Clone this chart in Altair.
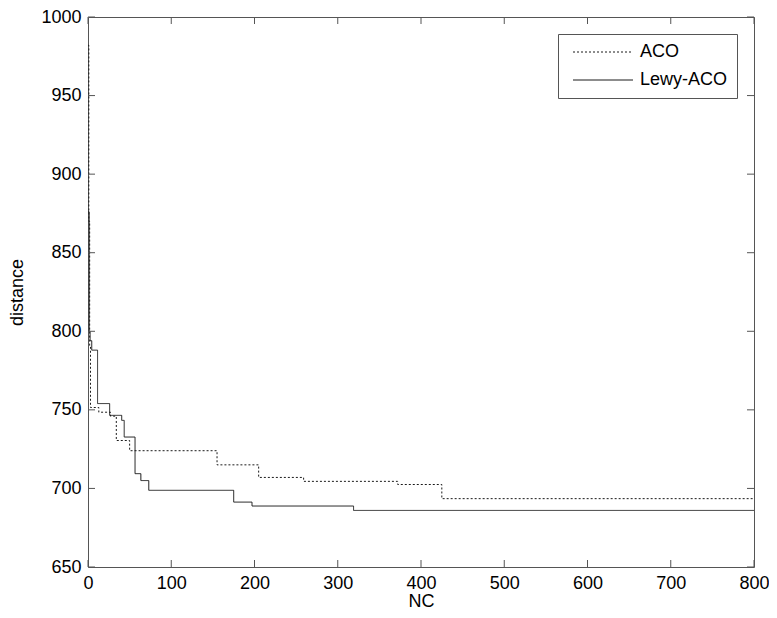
import altair as alt
import pandas as pd

# ---- data ----
aco_x = [0, 1, 2, 3, 13, 27, 34, 50, 155, 205, 259, 372, 425, 800]
aco_y = [982, 870, 790, 751.5, 748.5, 746, 730.5, 724, 715, 707, 704.5, 702.5, 693.5, 693.5]

lewy_x = [0, 1.5, 2.5, 4.5, 11.5, 26, 40.5, 43.5, 56.5, 63.5, 73, 175, 197, 319, 800]
lewy_y = [876, 800, 794, 788, 754, 746.5, 743.3, 732.7, 709.4, 705, 698.8, 691.3, 688.8, 686, 686]

x_ticks = [0, 100, 200, 300, 400, 500, 600, 700, 800]
y_ticks = [650, 700, 750, 800, 850, 900, 950, 1000]

series_names = ["ACO", "Lewy-ACO"]

W, H = 666, 550
TICK = 7
FONT = "Liberation Sans"
BOX = "#555555"

df = pd.concat([
    pd.DataFrame({"NC": aco_x, "distance": aco_y, "series": "ACO", "order": range(len(aco_x))}),
    pd.DataFrame({"NC": lewy_x, "distance": lewy_y, "series": "Lewy-ACO", "order": range(len(lewy_x))}),
])

xs = alt.Scale(domain=[0, 800], nice=False, zero=False)
ys = alt.Scale(domain=[650, 1000], nice=False, zero=False)
x_axis = alt.Axis(values=x_ticks, title="NC", ticks=False, domain=False, format="d",
                  labelFlush=False, labelOverlap=False,
                  labelPadding=7, titlePadding=0, grid=False)
y_axis = alt.Axis(values=y_ticks, title="distance", ticks=False, domain=False, format="d",
                  labelFlush=False, labelOverlap=False,
                  labelPadding=7, titlePadding=14, grid=False)

lines = alt.Chart(df).mark_line(interpolate="step-after", strokeWidth=1, color="#1a1a1a", clip=True).encode(
    x=alt.X("NC:Q", scale=xs, axis=x_axis),
    y=alt.Y("distance:Q", scale=ys, axis=y_axis),
    strokeDash=alt.StrokeDash("series:N",
                              scale=alt.Scale(domain=series_names, range=[[2, 2], [1, 0]]),
                              legend=alt.Legend(title=None, orient="none", legendX=470, legendY=17,
                                                symbolType="M-5,0H5", symbolSize=144,
                                                symbolOffset=27,
                                                symbolStrokeColor="#1a1a1a", symbolStrokeWidth=1,
                                                labelFont=FONT, labelFontSize=18, labelColor="black",
                                                labelOffset=28, rowPadding=10, padding=9,
                                                strokeColor=BOX, fillColor="white", cornerRadius=0)),
    order="order:Q",
)

xt = pd.DataFrame({"NC": x_ticks})
yt = pd.DataFrame({"distance": y_ticks})

bottom_ticks = alt.Chart(xt).mark_rule(color=BOX, strokeWidth=1).encode(
    x=alt.X("NC:Q", scale=xs, axis=x_axis), y=alt.value(H), y2=alt.value(H - TICK))
top_ticks = alt.Chart(xt).mark_rule(color=BOX, strokeWidth=1).encode(
    x=alt.X("NC:Q", scale=xs, axis=x_axis), y=alt.value(0), y2=alt.value(TICK))
left_ticks = alt.Chart(yt).mark_rule(color=BOX, strokeWidth=1).encode(
    y=alt.Y("distance:Q", scale=ys, axis=y_axis), x=alt.value(0), x2=alt.value(TICK))
right_ticks = alt.Chart(yt).mark_rule(color=BOX, strokeWidth=1).encode(
    y=alt.Y("distance:Q", scale=ys, axis=y_axis), x=alt.value(W), x2=alt.value(W - TICK))

chart = alt.layer(lines, bottom_ticks, top_ticks, left_ticks, right_ticks).properties(
    width=W, height=H,
    autosize=alt.AutoSizeParams(type="none"),
    padding={"left": 80, "top": 9, "right": 15, "bottom": 43},
    background="white",
).configure_view(
    stroke=BOX, strokeWidth=1
).configure_axis(
    labelFont=FONT, labelFontSize=18, labelColor="black",
    titleFont=FONT, titleFontSize=18, titleColor="black", titleFontWeight="normal",
)

chart.save("out.html", embed_options={"renderer": "svg", "actions": False})
